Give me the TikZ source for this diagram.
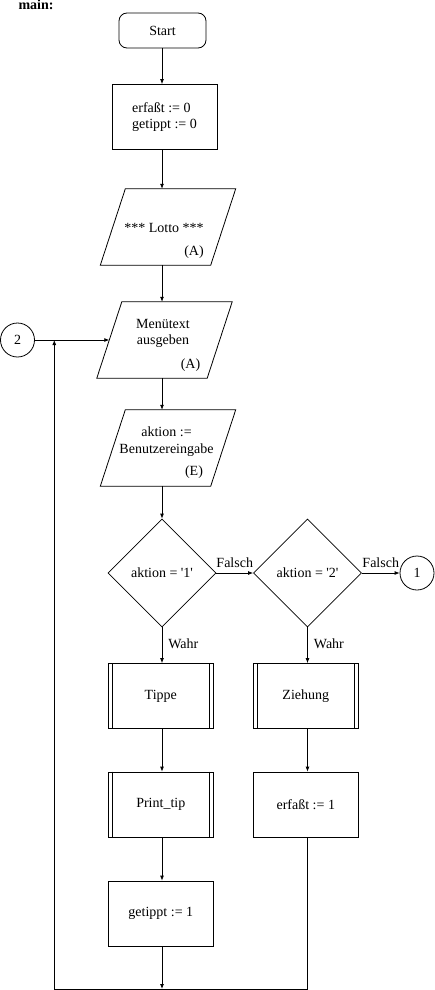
\documentclass[tikz,border=0pt]{standalone}
\usepackage{fontspec}
\setmainfont{Liberation Serif}
\usetikzlibrary{positioning,shapes.geometric,arrows.meta}

\tikzset{
  every node/.style={font=\fontsize{14}{16.5}\selectfont},
  line/.style={line width=0.8pt},
  arr/.style={line, -{Latex[length=5pt,width=4pt]}},
  term/.style={draw, line, rounded corners=8pt, minimum width=87, minimum height=35},
  proc/.style={draw, line, minimum width=105, minimum height=65, inner sep=0},
  io/.style={minimum width=110, minimum height=76, inner sep=0},
  dec/.style={draw, line, diamond, minimum width=108, minimum height=108, inner sep=0},
  conn/.style={draw, line, circle, minimum size=34, inner sep=0},
  lbl/.style={inner sep=1pt}
}

\begin{document}
\begin{tikzpicture}[x=1pt,y=-1pt]
  \useasboundingbox (0,0) rectangle (435,990);

  \node[anchor=base west, font=\fontsize{14}{16.5}\selectfont\bfseries] (title) at (15,10) {main:};

  % Spalte 1
  \coordinate (col) at (162,0);
  \node[term] (start) at (162.5,30.5) {Start};
  \node[proc, align=left] (init) at (164.5,117) {erfaßt := 0\\getippt := 0};
  \node[io] (lotto) at (168,227) {};
  \node[io] (menu) at (164.5,340) {};
  \node[io] (act) at (168,448) {};
  \node[dec] (dec1) at (162,573) {aktion = \textquotesingle1\textquotesingle};
  \node[proc] (tippe) at (160.8,696) {Tippe};
  \node[proc] (ptip) at (160.8,804.5) {Print\_tip};
  \node[proc] (get1) at (160.8,913.5) {getippt := 1};

  % Spalte 2
  \node[dec] (dec2) at (307.5,573) {aktion = \textquotesingle2\textquotesingle};
  \node[proc] (zieh) at (305.8,696) {Ziehung};
  \node[proc] (erf1) at (305.8,804.5) {erfaßt := 1};

  % Konnektoren
  \node[conn] (c2) at (17.5,340) {2};
  \node[conn] (c1) at (417,573) {1};

  % Ein-/Ausgabe
  \foreach \n in {lotto,menu,act}
    \draw[line] ([xshift=12.5]\n.north west) -- ([xshift=12.5]\n.north east)
      -- ([xshift=-12.5]\n.south east) -- ([xshift=-12.5]\n.south west) -- cycle;
  \node at ([xshift=-4,yshift=-1]lotto.center) {*** Lotto ***};
  \node at ([xshift=26,yshift=-25]lotto.center) {(A)};
  \node[align=center] at ([xshift=-1.5,yshift=6.5]menu.center) {Menütext\\ausgeben};
  \node at ([xshift=26,yshift=-25]menu.center) {(A)};
  \node[align=center] at ([xshift=-1.5,yshift=6.5]act.center) {aktion :=\\Benutzereingabe};
  \node at ([xshift=26,yshift=-24]act.center) {(E)};

  % Unterprogramme
  \foreach \n in {tippe,ptip,zieh}
    \draw[line] ([xshift=4]\n.north west) -- ([xshift=4]\n.south west)
      ([xshift=-4]\n.north east) -- ([xshift=-4]\n.south east);

  % Pfeile
  \draw[arr] (start.south -| col) -- (init.north -| col);
  \draw[arr] (init.south -| col) -- (lotto.north -| col);
  \draw[arr] (lotto.south -| col) -- (menu.north -| col);
  \draw[arr] (menu.south -| col) -- (act.north -| col);
  \draw[arr] (act.south -| col) -- (dec1.north);
  \draw[arr] (dec1.east) -- node[lbl, above=4pt] {Falsch} (dec2.west);
  \draw[arr] (dec2.east) -- node[lbl, above=4pt] {Falsch} (c1.west);
  \draw[arr] (dec1.south) -- node[lbl, right=5pt, pos=0.45] {Wahr} (dec1.south |- tippe.north);
  \draw[arr] (dec2.south) -- node[lbl, right=5pt, pos=0.45] {Wahr} (dec2.south |- zieh.north);
  \draw[arr] (tippe.south -| col) -- (ptip.north -| col);
  \draw[arr] (ptip.south -| col) -- (get1.north -| col);
  \draw[arr] (dec2.south |- zieh.south) -- (dec2.south |- erf1.north);

  % Schleife
  \coordinate (back) at (54.3,989);
  \draw[arr] (get1.south -| col) -- (back -| col);
  \draw[arr] (dec2.south |- erf1.south) -- (dec2.south |- back) -- (back) -- (back |- c2.east);
  \draw[arr] (c2.east) -- (menu.west);
\end{tikzpicture}
\end{document}
